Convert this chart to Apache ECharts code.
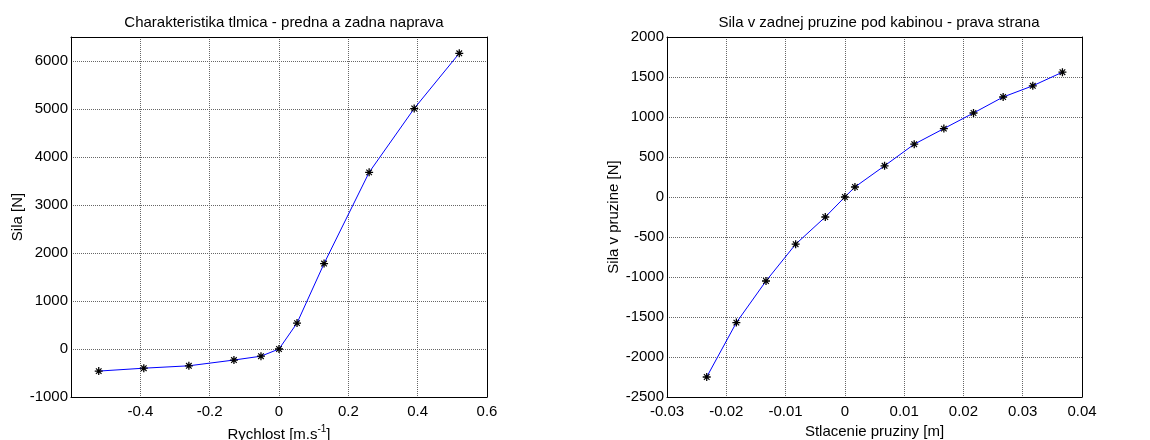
<!DOCTYPE html>
<html>
<head>
<meta charset="utf-8">
<script src="https://cdn.jsdelivr.net/npm/echarts@6/dist/echarts.min.js"></script>
<style>
html,body{margin:0;padding:0;background:#fff;}
#c{width:1150px;height:440px;}
</style>
</head>
<body>
<div id="c"></div>
<script>
// Left chart: damper characteristic
const damperVelocity = [-0.52, -0.39, -0.26, -0.13, -0.052, 0, 0.052, 0.13, 0.26, 0.39, 0.52];
const damperForce = [-460, -400, -350, -230, -150, 0, 540, 1780, 3680, 5010, 6160];
// Right chart: rear spring under cabin, right side
const springDeflection = [-0.0233, -0.0183, -0.0133, -0.0083, -0.0033, 0, 0.0017, 0.0067, 0.0117, 0.0167, 0.0217, 0.0267, 0.0317, 0.0367];
const springForce = [-2250, -1570, -1050, -590, -250, 0, 125, 390, 660, 855, 1050, 1250, 1390, 1560];

const leftTitle = 'Charakteristika tlmica - predna a zadna naprava';
const rightTitle = 'Sila v zadnej pruzine pod kabinou - prava strana';

const FONT = 'Liberation Sans, Arial, Helvetica, sans-serif';
const asterisk = 'path://M-0.8,-5L0.8,-5L0.8,5L-0.8,5Z M-5,-0.8L5,-0.8L5,0.8L-5,0.8Z M-3,-4L4,3L3,4L-4,-3Z M3,-4L4,-3L-3,4L-4,3Z';

function pairs(xs, ys){ return xs.map((x,i)=>[x, ys[i]]); }
function fmt(v){ return String(parseFloat(v.toFixed(6))); }

const gridLine = {show:true, lineStyle:{color:'#666', type:[1,1], width:1}};
const axLine = {show:true, onZero:false, lineStyle:{color:'#000', width:1}};
const lbl = {color:'#000', fontSize:15, fontFamily:FONT, formatter:fmt};

function xAx(gi, min, max, interval, name, showMin, gap){
  return [{
    type:'value', gridIndex:gi, min:min, max:max, interval:interval,
    axisLine:axLine, axisTick:{show:false}, splitLine:gridLine,
    axisLabel:Object.assign({margin:7, showMinLabel:showMin}, lbl),
    name:name, nameLocation:'middle', nameGap:gap,
    nameTextStyle:{color:'#000', fontSize:15, fontFamily:FONT,
      rich:{a:{fontSize:15, fontFamily:FONT, color:'#000'}, s:{fontSize:10, fontFamily:FONT, color:'#000', verticalAlign:'top', padding:[0,0,12,0]}}}
  },{
    type:'value', gridIndex:gi, position:'top', min:min, max:max, interval:interval,
    axisLine:axLine, axisTick:{show:false}, splitLine:{show:false}, axisLabel:{show:false}
  }];
}
function yAx(gi, min, max, interval, name, showMax){
  return [{
    type:'value', gridIndex:gi, min:min, max:max, interval:interval,
    axisLine:axLine, axisTick:{show:false}, splitLine:gridLine,
    axisLabel:Object.assign({margin:3, showMaxLabel:showMax}, lbl),
    name:name, nameLocation:'middle', nameGap:46, nameRotate:90,
    nameTextStyle:{color:'#000', fontSize:15, fontFamily:FONT}
  },{
    type:'value', gridIndex:gi, position:'right', min:min, max:max, interval:interval,
    axisLine:axLine, axisTick:{show:false}, splitLine:{show:false}, axisLabel:{show:false}
  }];
}

const chart = echarts.init(document.getElementById('c'), null, {renderer:'canvas'});
chart.setOption({
  backgroundColor:'#fff',
  animation:false,
  title:[
    {text:leftTitle, left:279, top:10, textAlign:'center', textStyle:{fontSize:15, fontWeight:'normal', color:'#000', fontFamily:FONT}},
    {text:rightTitle, left:874, top:10, textAlign:'center', textStyle:{fontSize:15, fontWeight:'normal', color:'#000', fontFamily:FONT}}
  ],
  grid:[
    {left:71, top:37, width:416, height:360, containLabel:false, outerBoundsMode:'none'},
    {left:667, top:37, width:415, height:360, containLabel:false, outerBoundsMode:'none'}
  ],
  xAxis:[].concat(
    xAx(0, -0.6, 0.6, 0.2, '{a|Rychlost [m.s}{s|-1}{a|]}', false, 26),
    xAx(1, -0.03, 0.04, 0.01, 'Stlacenie pruziny [m]', true, 24)
  ),
  yAxis:[].concat(
    yAx(0, -1000, 6500, 1000, 'Sila [N]', false),
    yAx(1, -2500, 2000, 500, 'Sila v pruzine [N]', true)
  ),
  series:[
    {type:'line', xAxisIndex:0, yAxisIndex:0, data:pairs(damperVelocity, damperForce),
     lineStyle:{color:'#0000ff', width:1}, symbol:asterisk, symbolSize:8, showAllSymbol:true,
     itemStyle:{color:'#000'}},
    {type:'line', xAxisIndex:2, yAxisIndex:2, data:pairs(springDeflection, springForce),
     lineStyle:{color:'#0000ff', width:1}, symbol:asterisk, symbolSize:8, showAllSymbol:true,
     itemStyle:{color:'#000'}}
  ]
});
</script>
</body>
</html>
